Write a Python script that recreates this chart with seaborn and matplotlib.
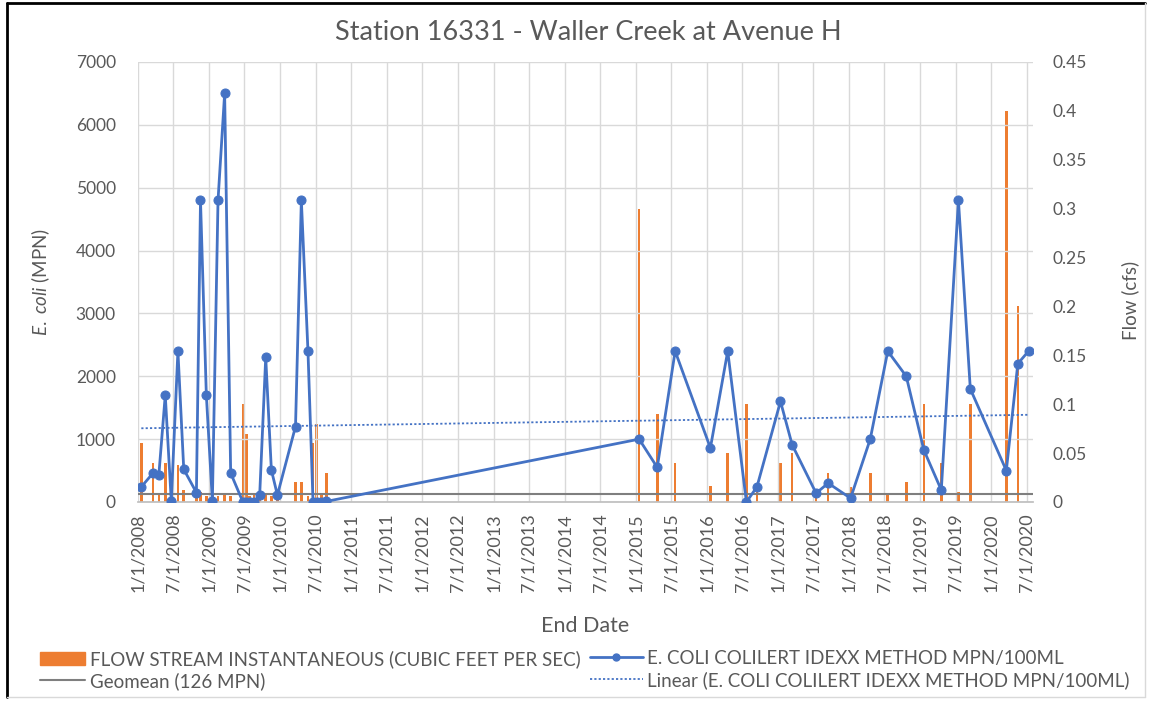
import numpy as np
import pandas as pd
import matplotlib
matplotlib.use("Agg")
import matplotlib.pyplot as plt
import matplotlib.dates as mdates
from matplotlib.ticker import FuncFormatter, MultipleLocator
from matplotlib.patches import Patch
from matplotlib.lines import Line2D
import seaborn as sns

# ---------------- data ----------------
sample_dates = [
    "2008-01-18", "2008-03-18", "2008-04-17", "2008-05-20", "2008-06-20",
    "2008-07-24", "2008-08-23", "2008-10-27", "2008-11-17", "2008-12-17",
    "2009-01-17", "2009-02-15", "2009-03-21", "2009-04-21", "2009-06-23",
    "2009-07-11", "2009-07-28", "2009-08-19", "2009-09-17", "2009-10-18",
    "2009-11-16", "2009-12-17", "2010-03-20", "2010-04-19", "2010-05-23",
    "2010-06-18", "2010-07-06", "2010-07-31", "2010-08-26",
    "2015-01-18", "2015-04-21", "2015-07-22", "2016-01-19", "2016-04-17",
    "2016-07-22", "2016-09-14", "2017-01-13", "2017-03-14", "2017-07-15",
    "2017-09-15", "2018-01-08", "2018-04-19", "2018-07-18", "2018-10-21",
    "2019-01-19", "2019-04-19", "2019-07-16", "2019-09-15", "2020-03-18",
    "2020-05-16", "2020-07-10",
]
ecoli_mpn = [
    240, 460, 430, 1700, 10, 2400, 520, 150, 4800, 1700,
    20, 4800, 6500, 460, 0, 0, 0, 0, 110, 2300,
    510, 110, 1200, 4800, 2400, 0, 0, 0, 10,
    1000, 550, 2400, 860, 2400, 0, 240, 1600, 910, 140,
    300, 60, 1000, 2400, 2000, 830, 190, 4800, 1800, 500,
    2200, 2400,
]
flow_cfs = [
    0.06, 0.04, 0.008, 0.04, 0.006, 0.038, 0.012, 0.008, 0.01, 0.006,
    0.008, 0.006, 0.008, 0.006, 0.1, 0.07, 0.006, 0.008, 0.006, 0.008,
    0.006, 0.006, 0.02, 0.02, 0.006, 0.06, 0.08, 0.008, 0.03,
    0.3, 0.09, 0.04, 0.016, 0.05, 0.1, 0.01, 0.04, 0.05, 0.005,
    0.03, 0.015, 0.03, 0.009, 0.02, 0.1, 0.04, 0.01, 0.1, 0.4,
    0.2, 0.0,
]
geomean_mpn = 126
x_tick_start, x_tick_end = "2008-01-01", "2020-07-01"
x_limits = ("2008-01-01", "2020-08-02")

title = "Station 16331 - Waller Creek at Avenue H"
flow_label = "FLOW STREAM INSTANTANEOUS (CUBIC FEET PER SEC)"
ecoli_label = "E. COLI COLILERT IDEXX METHOD MPN/100ML"
geo_label = "Geomean (126 MPN)"
lin_label = "Linear (E. COLI COLILERT IDEXX METHOD MPN/100ML)"

# ---------------- style ----------------
sns.set_theme(style="white")
plt.rcParams["font.family"] = ["Lato", "DejaVu Sans"]
plt.rcParams["mathtext.fontset"] = "custom"
plt.rcParams["mathtext.rm"] = "Lato"
plt.rcParams["mathtext.it"] = "Lato:italic"

TXT = "#595959"
GRID = "#D9D9D9"
BLUE = "#4472C4"
ORANGE = "#ED7D31"
GEO = "#7F7F7F"

df = pd.DataFrame({"date": pd.to_datetime(sample_dates),
                   "ecoli": ecoli_mpn, "flow": flow_cfs})

fig = plt.figure(figsize=(11.54, 7.06), dpi=100)
W, H = 1154, 706
ax = fig.add_axes([138 / W, 1 - 502 / H, (1033 - 138) / W, 440 / H])
ax2 = ax.twinx()

# bars (secondary axis, behind)
ax2.bar(df["date"], df["flow"], width=13, color=ORANGE, linewidth=0, zorder=2)
ax2.set_ylim(0, 0.45)
ax2.yaxis.set_major_locator(MultipleLocator(0.05))
ax2.yaxis.set_major_formatter(FuncFormatter(
    lambda v, p: f"{v:.2f}".rstrip("0").rstrip(".") if abs(v) > 1e-9 else "0"))

# primary axis above the bars
ax.set_zorder(ax2.get_zorder() + 1)
ax.patch.set_visible(False)

# geomean line
ax.axhline(geomean_mpn, color=GEO, linewidth=1.5, zorder=3)

# linear trend (least squares on the sample data)
xn = mdates.date2num(df["date"])
coef = np.polyfit(xn, df["ecoli"], 1)
xt = np.array([xn.min(), xn.max()])
ax.plot(mdates.num2date(xt), np.polyval(coef, xt), linestyle=(0, (1.2, 1.2)),
        color=BLUE, linewidth=1.3, zorder=3)

# E. coli line
sns.lineplot(data=df, x="date", y="ecoli", ax=ax, color=BLUE, marker="o",
             markersize=6.5, markeredgecolor=BLUE, linewidth=2.0, zorder=4)

ax.set_ylim(0, 7000)
ax.yaxis.set_major_locator(MultipleLocator(1000))
ax.set_xlim(pd.Timestamp(x_limits[0]), pd.Timestamp(x_limits[1]))
ticks = pd.date_range(x_tick_start, x_tick_end, freq="6MS")
ax.set_xticks(ticks)
ax.xaxis.set_major_formatter(FuncFormatter(
    lambda v, p: (lambda d: f"{d.month}/{d.day}/{d.year}")(mdates.num2date(v))))
ax.tick_params(axis="x", rotation=90, labelsize=13, colors=TXT, length=0, pad=8)
ax.tick_params(axis="y", labelsize=12.5, colors=TXT, length=0, pad=16)
ax2.tick_params(axis="y", labelsize=12.5, colors=TXT, length=0, pad=14)

ax.grid(True, color=GRID, linewidth=1.0)
ax.set_axisbelow(True)
for s in ["left", "right", "top"]:
    ax.spines[s].set_visible(False)
    ax2.spines[s].set_visible(False)
ax.spines["bottom"].set_color("#BFBFBF")
ax2.spines["bottom"].set_visible(False)

ax.set_xlabel("")
ax.set_ylabel("")
ax2.set_ylabel("")
fig.text(585 / W, 1 - 626 / H, "End Date", ha="center", va="center", fontsize=15.5, color=TXT)
fig.text(41 / W, 1 - 282 / H, r"$\it{E.\ coli}$ (MPN)", ha="center", va="center",
         rotation=90, fontsize=13.5, color=TXT)
fig.text(1130 / W, 1 - 300 / H, "Flow (cfs)", ha="center", va="center",
         rotation=90, fontsize=13.5, color=TXT)
fig.text(588 / W, 1 - 33 / H, title, ha="center", va="center", fontsize=19.5, color=TXT)

# legends (two columns placed separately)
leg_kw = dict(frameon=False, fontsize=13.5, labelcolor=TXT, borderpad=0,
              borderaxespad=0, handletextpad=0.25, labelspacing=0.22, loc="upper left")
leg1 = fig.legend([Patch(facecolor=ORANGE, edgecolor=ORANGE),
                   Line2D([], [], color=GEO, linewidth=1.5)],
                  [flow_label, geo_label], bbox_to_anchor=(40 / W, 1 - 650 / H),
                  handlelength=2.4, **leg_kw)
leg2 = fig.legend([Line2D([], [], color=BLUE, linewidth=2, marker="o", markersize=5),
                   Line2D([], [], color=BLUE, linewidth=1.3, linestyle=(0, (1.2, 1.2)))],
                  [ecoli_label, lin_label], bbox_to_anchor=(590 / W, 1 - 650 / H),
                  handlelength=2.8, **leg_kw)

# outer frame
fig.add_artist(Line2D([7 / W, 7 / W], [1 - 3 / H, 1 - 697 / H], color="black", linewidth=2, transform=fig.transFigure))
fig.add_artist(Line2D([7 / W, 1145 / W], [1 - 3 / H, 1 - 3 / H], color="black", linewidth=2, transform=fig.transFigure))
fig.add_artist(Line2D([1145 / W, 1145 / W], [1 - 3 / H, 1 - 697 / H], color="#D9D9D9", linewidth=1, transform=fig.transFigure))
fig.add_artist(Line2D([7 / W, 1145 / W], [1 - 697 / H, 1 - 697 / H], color="#D9D9D9", linewidth=1, transform=fig.transFigure))

fig.savefig("out.png", dpi=100)
